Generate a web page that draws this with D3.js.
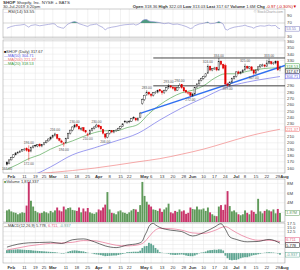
<!DOCTYPE html>
<html>
<head>
<meta charset="utf-8">
<script src="https://cdn.jsdelivr.net/npm/d3@7"></script>
<style>
  html, body { margin: 0; padding: 0; background: #fff; }
  svg { display: block; font-family: "Liberation Sans", Arial, sans-serif; }
</style>
</head>
<body>
<div id="chart"></div>
<script>
// ---- data ----
const holidays = ['2019-02-18', '2019-04-19', '2019-05-27', '2019-07-04'];

const open = [169,167,173,177,181,184,185,187,189,191,189,187,193,196,195,198,195,197,200,203,
  206,209,212,213,207,203,197,200,207,215,220,225,229,226,221,224,219,212,214,220,
  223,225,228,226,221,214,209,215,219,217,219,220,223,226,234,232,233,234,240,239,
  236,240,262,268,276,280,277,275,279,280,284,282,279,283,287,290,288,287,283,287,
  292,287,283,278,279,274,277,287,293,299,302,305,310,321,315,317,319,315,329,324,
  322,293,291,296,302,305,312,310,312,315,321,318,320,315,310,315,320,322,323,321,
  326,328,325,326,329,318.36];
const high = [171,174,178,182,185,187,188,190,192,193,196,194,196,197,198,199,198,201,204,207,
  210,213,216,214,208,205,201,208,216,221,226,230,230,227,225,225,220,216,221,224,
  226,230,229,227,222,215,216,220,220,220,222,224,227,231,236,235,236,239,242,240,
  240,248,270,276,283,281,278,280,282,284,285,283,284,288,293,291,289,288,288,294,
  293,288,284,281,280,279,288,294,300,303,306,310,324,322,318,320,320,334,330,325,
  325,295,297,303,306,313,314,313,316,325,322,321,321,316,316,321,324,325,324,331,
  333,329,328,330,330,322.03];
const low = [164,166,172,176,180,182,184,186,187,186,172,185,191,193,193,193,193,196,199,202,
  204,207,210,205,202,199,194,199,206,213,218,223,224,220,219,217,215,210,213,218,
  221,224,223,220,213,206,207,213,215,215,217,219,221,225,231,230,231,233,237,234,
  234,239,260,266,274,275,272,273,277,278,280,276,277,281,285,286,284,281,282,286,
  285,280,278,276,272,273,276,286,292,297,300,303,309,313,313,315,313,314,322,316,
  291,289,289,294,300,303,308,308,310,314,316,316,313,307,309,313,318,320,319,320,
  324,323,323,324,314,313.03];
const close = [166,173,177,181,184,185,187,189,190,188,186,193,195,195,197,195,197,200,203,206,
  209,212,214,207,204,201,200,207,215,220,225,228,226,222,223,219,217,214,220,223,
  225,228,225,222,215,209,215,219,217,219,220,223,226,230,233,233,234,238,239,236,
  239,247,268,275,280,277,275,279,280,283,282,279,283,287,290,288,286,283,287,291,
  287,282,280,279,275,277,287,293,299,302,305,309,321,315,317,318,315,328,324,318,
  293,291,296,302,305,312,310,312,315,321,318,320,315,310,315,320,323,323,321,326,
  328,325,326,328,315,317.67];
// volume in millions
const volume = [2.4,2.6,2.2,2.0,1.9,1.6,1.8,2.0,1.9,3.4,8.3,4.4,3.2,2.3,2.0,1.8,1.9,2.2,2.0,1.8,
  2.3,2.0,2.4,3.0,2.4,2.2,3.2,2.6,2.9,3.0,2.5,2.4,2.3,3.0,2.0,2.8,2.2,2.9,2.0,1.8,
  1.7,2.0,2.6,2.4,3.0,3.6,6.2,2.6,1.9,1.8,1.6,2.2,2.4,2.0,1.9,1.7,2.0,2.4,2.7,2.6,
  2.1,3.5,8.3,5.4,4.2,3.6,3.2,2.6,2.5,2.3,2.8,2.1,2.6,3.0,3.8,2.0,1.8,2.3,2.1,2.6,
  2.2,2.4,1.7,1.9,3.0,2.7,2.6,3.2,2.6,2.6,2.8,2.3,3.0,2.0,1.6,1.3,1.2,3.2,3.5,2.5,
  3.6,6.4,3.3,2.2,2.4,2.0,1.6,1.4,1.6,2.4,1.9,1.6,2.4,2.1,1.7,4.8,2.2,1.8,2.3,2.6,
  2.4,2.2,2.6,1.8,2.7,1.87];

// [day index, value]
const ma20 = [[0,158],[5,166],[10,175],[15,181],[20,190],[25,197],[30,203],[35,210],[40,216],[45,219],
  [50,219],[55,224],[60,229],[65,246],[70,260],[75,271],[80,279],[85,283],[90,290],[95,302],
  [100,309],[105,309],[110,313],[115,316],[120,318],[125,318.5]];
const ma50 = [[0,142],[10,148],[14,152],[20,162],[30,181],[40,192],[50,203],[60,215],[70,236],
  [80,255],[90,271],[100,287],[110,296],[120,302],[125,304.71]];
const ma200 = [[0,148],[20,153],[40,160],[60,170],[70,175],[80,182],[90,190],[100,200],[110,210],
  [120,218],[125,221.37]];
const trendline = [[61,246.5],[127.3,322]];
const levels = [[67,334],[67,290]];

const rsi = [[0,55],[2,60],[4,63],[6,64],[8,66],[9,62],[10,58],[11,63],[13,65],[15,62],[17,64],
  [19,66],[21,68],[22,67],[23,60],[25,56],[26,55],[27,62],[28,67],[29,70],[30,73],[31,74],[32,72],
  [33,68],[35,64],[37,60],[38,64],[40,66],[41,67],[42,63],[44,57],[45,50],[46,55],[48,58],[50,60],
  [52,63],[54,65],[56,66],[58,67],[59,64],[60,66],[61,70],[62,77],[63,80],[64,80],[65,76],[66,74],
  [68,73],[70,71],[72,68],[74,70],[76,66],[78,67],[80,64],[82,60],[84,54],[85,56],[86,62],[88,67],
  [90,69],[92,73],[93,68],[95,69],[97,74],[98,71],[99,67],[100,52],[101,50],[102,54],[104,58],
  [106,60],[108,62],[109,64],[110,61],[112,58],[113,55],[114,59],[116,62],[118,61],[120,64],
  [121,62],[123,63],[124,56],[125,53.55]];

const macd = [[0,3.5],[5,5.2],[10,6.0],[15,6.2],[20,6.4],[25,5.6],[30,7.8],[35,8.3],[40,6.6],
  [45,4.2],[50,3.2],[55,4.7],[60,5.6],[62,7],[63,10],[64,12.5],[65,15.5],[66,17],[67,17.4],
  [68,16.5],[70,15.0],[75,13.4],[80,12.6],[85,10.0],[90,12.0],[95,15.2],[98,17.2],[100,14],
  [102,9.5],[105,8.0],[110,6.6],[115,6.8],[120,8.0],[125,5.778]];
const signal = [[0,1.8],[5,3.0],[10,4.2],[15,5.0],[20,5.7],[25,5.9],[30,6.3],[35,7.3],[40,7.2],
  [45,6.0],[50,4.6],[55,4.2],[60,4.8],[63,6.5],[65,9.5],[68,13.5],[70,14.5],[75,14.3],[80,13.4],
  [85,11.8],[90,11.5],[95,13.2],[100,15.5],[103,13.5],[105,12.0],[110,9.0],[115,7.5],[120,7.5],
  [125,6.711]];
const hist = [1.7,1.8,1.9,2.0,2.1,2.2,2.1,2.0,1.9,1.8,1.8,1.7,1.5,1.4,1.3,1.2,1.1,1.0,0.9,0.8,
  0.7,0.6,0.5,0.3,0.1,-0.3,-0.3,0.2,0.8,1.2,1.5,1.6,1.5,1.3,1.1,1.0,0.6,0.2,0.0,-0.2,
  -0.6,-0.8,-1.0,-1.2,-1.5,-1.8,-1.7,-1.6,-1.5,-1.4,-1.4,-1.1,-0.8,-0.5,-0.2,0.5,0.6,0.7,0.8,0.8,
  0.8,1.4,3.0,4.0,4.2,6.0,5.5,4.6,3.0,2.0,0.5,0.2,-0.1,-0.2,-0.4,-0.9,-1.0,-1.1,-1.0,-0.9,
  -0.8,-1.0,-1.4,-1.7,-1.8,-1.8,-1.4,-0.8,-0.2,0.3,0.5,0.9,1.5,1.7,1.8,2.0,1.9,2.2,2.1,1.5,
  -1.5,-3.0,-4.0,-4.2,-4.0,-4.0,-3.6,-3.0,-2.6,-2.4,-2.4,-2.0,-1.5,-1.2,-1.0,-0.7,-0.4,-0.1,0.2,0.4,
  0.5,0.4,0.3,0.1,-0.3,-0.937];

// [day index, 'h' above high | 'l' below low]
const notes = [[0,'l'],[10,'l'],[10,'h'],[22,'h'],[26,'l'],[31,'h'],[37,'l'],[41,'h'],[45,'l'],
  [64,'h'],[74,'h'],[79,'h'],[84,'l'],[92,'h'],[97,'h'],[101,'l'],[109,'h'],[113,'l'],[120,'h']];

const priceTicks = d3.range(160, 361, 10);
const volTicks = [2, 4, 6, 8];
const macdTicks = [-2.5, 0, 2.5, 5, 7.5, 10, 12.5, 15, 17.5];
const rsiTicks = [30, 70, 90];

// ---- layout ----
const W = 300, H = 270;
const LEFT = 3, RIGHT = 285;
const RSI = [9, 38], PRICE = [40, 173], VOL = [179, 222], MACD = [223, 263];
const FS = 4.3;

const fmtDay = d3.timeFormat('%Y-%m-%d');
const days = d3.timeDay.range(new Date(2019, 0, 30), new Date(2019, 7, 2))
  .filter(d => d.getDay() % 6 !== 0 && !holidays.includes(fmtDay(d)));

const x = d3.scaleLinear().domain([-1.8, 127.3]).range([LEFT, RIGHT]);
const yP = d3.scaleLinear().domain([152.3, 362.4]).range([PRICE[1], PRICE[0]]);
const yR = d3.scaleLinear().domain([27.1, 110]).range([RSI[1], RSI[0]]);
const yV = d3.scaleLinear().domain([0, 8.7]).range([VOL[1], VOL[0] + 1]);
const yM = d3.scaleLinear().domain([-5.8, 17.6]).range([MACD[1], MACD[0]]);

// week / month ticks
const monthStarts = d3.range(1, days.length).filter(i => days[i].getMonth() !== days[i - 1].getMonth());
const weekStarts = d3.range(1, days.length).filter(i => days[i].getDay() < days[i - 1].getDay())
  .filter(i => monthStarts.every(m => Math.abs(i - m) >= 3));
const dateTicks = monthStarts.map(i => ({ i, label: d3.timeFormat('%b')(days[i]), month: true }))
  .concat(weekStarts.map(i => ({ i, label: String(days[i].getDate()), month: false })))
  .sort((a, b) => a.i - b.i);

const svg = d3.select('#chart').append('svg').attr('width', W).attr('height', H);
svg.append('rect').attr('width', W).attr('height', H).attr('fill', '#fff');

const defs = svg.append('defs');
function clip(id, top, bottom) {
  defs.append('clipPath').attr('id', id).append('rect')
    .attr('x', LEFT).attr('y', top).attr('width', RIGHT - LEFT).attr('height', bottom - top);
}
clip('c-price', PRICE[0], PRICE[1]);
clip('c-rsi', RSI[0], RSI[1]);
clip('c-rsi70', RSI[0], yR(70));
clip('c-macd', MACD[0], MACD[1]);

// panel frames + grid
function panel(range, ticks, y) {
  const g = svg.append('g');
  g.append('rect').attr('x', LEFT).attr('y', range[0]).attr('width', RIGHT - LEFT)
    .attr('height', range[1] - range[0]).attr('fill', '#fff');
  g.selectAll('.vg').data(dateTicks).join('line')
    .attr('x1', d => x(d.i)).attr('x2', d => x(d.i))
    .attr('y1', range[0]).attr('y2', range[1])
    .attr('stroke', '#e4e4e4').attr('stroke-width', 0.5);
  g.selectAll('.hg').data(ticks).join('line')
    .attr('x1', LEFT).attr('x2', RIGHT).attr('y1', d => y(d)).attr('y2', d => y(d))
    .attr('stroke', '#e4e4e4').attr('stroke-width', 0.5);
  g.append('rect').attr('x', LEFT).attr('y', range[0]).attr('width', RIGHT - LEFT)
    .attr('height', range[1] - range[0]).attr('fill', 'none').attr('stroke', '#9a9a9a')
    .attr('stroke-width', 0.5);
  return g;
}
// right-hand tick labels, skipping any that a value box covers
function axisLabels(ticks, y, fmt, boxes) {
  const free = ticks.filter(t => boxes.every(b => Math.abs(y(t) - b) > 4.4));
  svg.append('g').selectAll('text').data(free).join('text')
    .attr('x', RIGHT + 2).attr('y', d => y(d) + 1.5).attr('font-size', FS).attr('fill', '#444')
    .text(fmt);
}
function valueBox(yPos, text, color) {
  const g = svg.append('g');
  g.append('rect').attr('x', RIGHT + 0.5).attr('y', yPos - 2.4).attr('width', 14).attr('height', 4.8)
    .attr('fill', '#fff').attr('stroke', color).attr('stroke-width', 0.5);
  g.append('text').attr('x', RIGHT + 1.3).attr('y', yPos + 1.4).attr('font-size', 3.9)
    .attr('fill', color).text(text);
}

// ---- header ----
const head = svg.append('text').attr('x', LEFT).attr('y', 4).attr('font-size', 4.4).attr('fill', '#333');
head.append('tspan').attr('font-weight', 'bold').text('SHOP');
head.append('tspan').text(' Shopify, Inc.  NYSE + BATS');
svg.append('text').attr('x', LEFT).attr('y', 8).attr('font-size', 4.2).attr('fill', '#333')
  .text('30-Jul-2019 3:20pm');
const ohlc = svg.append('text').attr('x', 297).attr('y', 8).attr('font-size', 4.2).attr('fill', '#333')
  .attr('text-anchor', 'end');
[['Open', '318.36'], ['High', '322.03'], ['Low', '313.03'], ['Last', '317.67'], ['Volume', '1.6M']]
  .forEach(([k, v]) => {
    ohlc.append('tspan').attr('font-weight', 'bold').text(k + ' ');
    ohlc.append('tspan').text(v + '  ');
  });
ohlc.append('tspan').attr('font-weight', 'bold').text('Chg ');
ohlc.append('tspan').attr('fill', '#c00').text('-0.97 (-0.30%)\u25BC');

// ---- RSI panel ----
panel(RSI, [], yR);
[30, 70].forEach(v => svg.append('line').attr('x1', LEFT).attr('x2', RIGHT)
  .attr('y1', yR(v)).attr('y2', yR(v)).attr('stroke', '#b0b0b0').attr('stroke-width', 0.5));
svg.append('path').datum(rsi).attr('clip-path', 'url(#c-rsi70)')
  .attr('d', d3.area().x(d => x(d[0])).y0(yR(70)).y1(d => yR(d[1])))
  .attr('fill', '#4f9a82');
svg.append('path').datum(rsi).attr('clip-path', 'url(#c-rsi)')
  .attr('d', d3.line().x(d => x(d[0])).y(d => yR(d[1])))
  .attr('fill', 'none').attr('stroke', '#9a9ad6').attr('stroke-width', 0.7);
axisLabels(rsiTicks, yR, d => d, [yR(53.55)]);
valueBox(yR(53.55), '53.55', '#7a7ac0');
const rsiLab = svg.append('text').attr('x', LEFT + 1).attr('y', RSI[0] + 4).attr('font-size', 4.2);
rsiLab.append('tspan').attr('fill', '#9a9ad6').text('\u2014');
rsiLab.append('tspan').attr('fill', '#333').text('RSI(14) 53.55');
svg.append('text').attr('x', RIGHT - 2).attr('y', RSI[0] + 4).attr('text-anchor', 'end')
  .attr('font-size', 3.4).attr('fill', '#999').text('\u00A9 StockCharts.com');

// ---- price panel ----
panel(PRICE, priceTicks, yP);
const gp = svg.append('g').attr('clip-path', 'url(#c-price)');
const lineP = d3.line().curve(d3.curveMonotoneX).x(d => x(d[0])).y(d => yP(d[1]));
gp.append('path').datum(ma200).attr('d', lineP).attr('fill', 'none').attr('stroke', '#f07070').attr('stroke-width', 0.6);
gp.append('path').datum(ma50).attr('d', lineP).attr('fill', 'none').attr('stroke', '#5a5ae6').attr('stroke-width', 0.6);
gp.append('path').datum(ma20).attr('d', lineP).attr('fill', 'none').attr('stroke', '#3a9a3a').attr('stroke-width', 0.6);
gp.append('path').datum(trendline).attr('d', d3.line().x(d => x(d[0])).y(d => yP(d[1])))
  .attr('stroke', '#2f6ff0').attr('stroke-width', 1.5);
gp.selectAll('.lvl').data(levels).join('line')
  .attr('x1', d => x(d[0])).attr('x2', RIGHT).attr('y1', d => yP(d[1])).attr('y2', d => yP(d[1]))
  .attr('stroke', '#333').attr('stroke-width', 0.9);

const candles = gp.selectAll('.cdl').data(close).join('g');
const colorOf = i => (i > 0 && close[i] < close[i - 1]) ? '#e00000' : '#111';
candles.append('line')
  .attr('x1', (d, i) => x(i)).attr('x2', (d, i) => x(i))
  .attr('y1', (d, i) => yP(high[i])).attr('y2', (d, i) => yP(low[i]))
  .attr('stroke', (d, i) => colorOf(i)).attr('stroke-width', 0.45);
candles.append('rect')
  .attr('x', (d, i) => x(i) - 0.75).attr('width', 1.5)
  .attr('y', (d, i) => yP(Math.max(open[i], close[i])))
  .attr('height', (d, i) => Math.max(0.5, Math.abs(yP(open[i]) - yP(close[i]))))
  .attr('fill', (d, i) => i === close.length - 1 ? '#f2c200' : (close[i] < open[i] ? colorOf(i) : '#fff'))
  .attr('stroke', (d, i) => colorOf(i)).attr('stroke-width', 0.4);

svg.append('g').selectAll('text').data(notes).join('text')
  .attr('x', d => x(d[0])).attr('text-anchor', 'middle')
  .attr('y', d => d[1] === 'h' ? yP(high[d[0]]) - 1.2 : yP(low[d[0]]) + 4)
  .attr('font-size', 3.3).attr('fill', '#555')
  .text(d => d3.format('.2f')(d[1] === 'h' ? high[d[0]] : low[d[0]]));

const priceBoxes = [[66.2, '318.53', '#3a9a3a'], [71.3, '317.67', '#111'], [76.4, '304.71', '#5a5ae6'],
  [yP(221.37), '221.37', '#f07070']];
axisLabels(priceTicks, yP, d => d, priceBoxes.map(b => b[0]));
priceBoxes.forEach(b => valueBox(...b));

const legend = [['\u25A0', '#111', 'SHOP (Daily) 317.67'], ['\u2014', '#5a5ae6', 'MA(50) 304.71'],
  ['\u2014', '#f07070', 'MA(200) 221.37'], ['\u2014', '#3a9a3a', 'MA(20) 318.53']];
legend.forEach(([m, c, t], k) => {
  const tx = svg.append('text').attr('x', LEFT + 1).attr('y', PRICE[0] + 13 + k * 4).attr('font-size', 3.9);
  tx.append('tspan').attr('fill', c).text(m);
  tx.append('tspan').attr('fill', k === 0 ? '#333' : c).text(t);
});

// date labels
function dateLabels(yPos) {
  svg.append('g').selectAll('text').data(dateTicks).join('text')
    .attr('x', d => x(d.i)).attr('y', yPos).attr('text-anchor', 'middle')
    .attr('font-size', FS).attr('font-weight', d => d.month ? 'bold' : 'normal').attr('fill', '#333')
    .text(d => d.label);
}
dateLabels(PRICE[1] + 4.8);

// ---- volume panel ----
panel(VOL, volTicks, yV);
svg.append('g').selectAll('rect').data(volume).join('rect')
  .attr('x', (d, i) => x(i) - 0.95).attr('width', 1.9)
  .attr('y', d => yV(d)).attr('height', d => yV(0) - yV(d))
  .attr('fill', (d, i) => (i > 0 && close[i] < close[i - 1]) ? '#c8346a' : '#5f9a5a');
axisLabels(volTicks, yV, d => d + 'M', [yV(1.87)]);
valueBox(yV(1.87), '1.87M', '#5f9a5a');
const vlab = svg.append('text').attr('x', LEFT + 1).attr('y', VOL[0] + 4).attr('font-size', 4);
vlab.append('tspan').attr('fill', '#5f9a5a').text('\u25A0');
vlab.append('tspan').attr('fill', '#333').text('Volume 1,874,337');

// ---- MACD panel ----
panel(MACD, macdTicks, yM);
const gm = svg.append('g').attr('clip-path', 'url(#c-macd)');
gm.selectAll('rect').data(hist).join('rect')
  .attr('x', (d, i) => x(i) - 0.9).attr('width', 1.8)
  .attr('y', d => Math.min(yM(d), yM(0))).attr('height', d => Math.abs(yM(d) - yM(0)))
  .attr('fill', '#5fa592');
const lineM = d3.line().curve(d3.curveMonotoneX).x(d => x(d[0])).y(d => yM(d[1]));
gm.append('path').datum(signal).attr('d', lineM).attr('fill', 'none').attr('stroke', '#e4567e').attr('stroke-width', 0.6);
gm.append('path').datum(macd).attr('d', lineM).attr('fill', 'none').attr('stroke', '#111').attr('stroke-width', 0.6);
const macdBoxes = [[240, '6.711', '#e4567e'], [245.2, '5.778', '#111'], [yM(-0.937), '-0.937', '#5fa592']];
axisLabels(macdTicks, yM, d => d.toFixed(1), macdBoxes.map(b => b[0]));
macdBoxes.forEach(b => valueBox(...b));
const mlab = svg.append('text').attr('x', LEFT + 1).attr('y', MACD[0] + 4).attr('font-size', 3.9);
mlab.append('tspan').attr('fill', '#111').text('\u2014');
mlab.append('tspan').attr('fill', '#333').text('MACD(12,26,9) 5.778, ');
mlab.append('tspan').attr('fill', '#e4567e').text('6.711, ');
mlab.append('tspan').attr('fill', '#5fa592').text('-0.937');

dateLabels(MACD[1] + 5.5);
</script>
</body>
</html>
